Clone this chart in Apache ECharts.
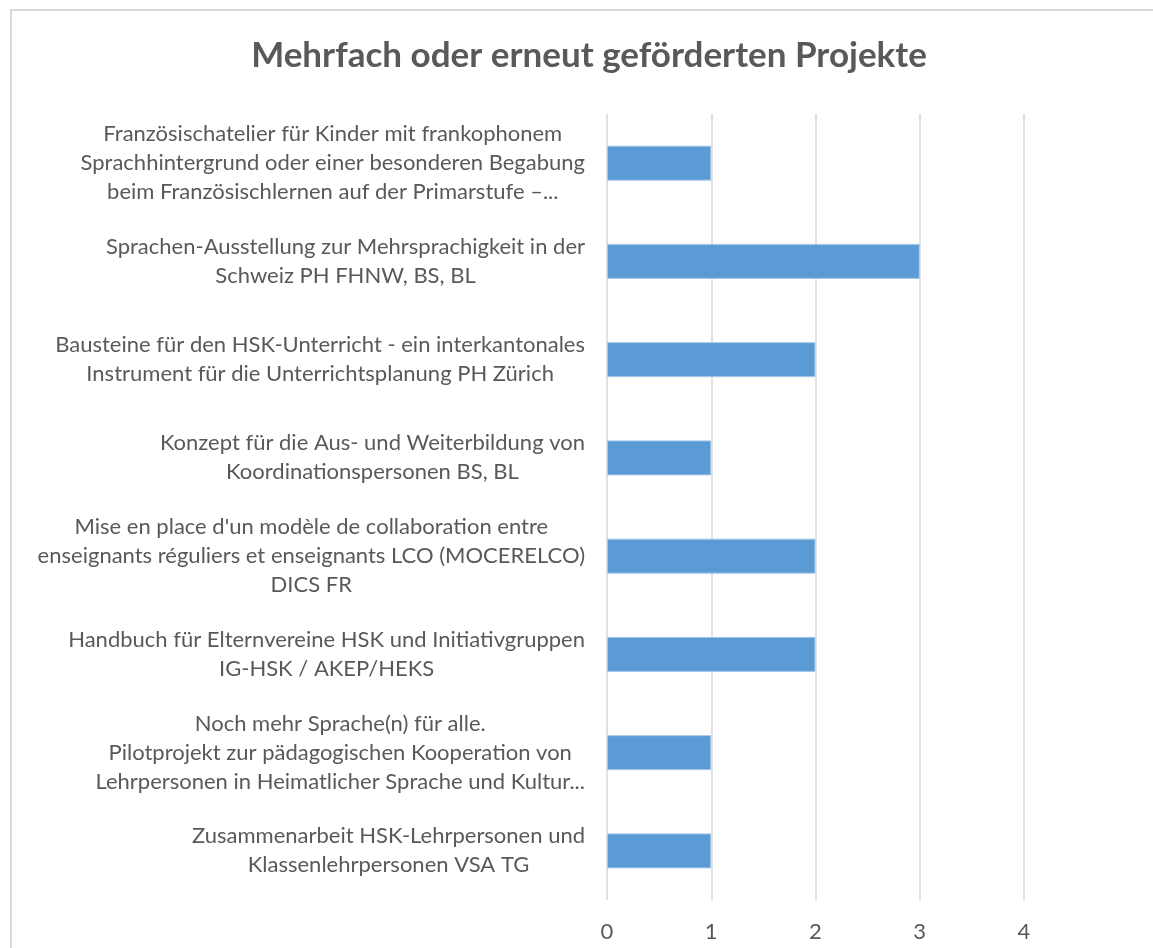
<!DOCTYPE html>
<html>
<head>
<meta charset="utf-8">
<script src="https://cdn.jsdelivr.net/npm/echarts@6/dist/echarts.min.js"></script>
<style>
  html, body { margin: 0; padding: 0; background: #fff; }
  #frame {
    position: absolute; left: 10px; top: 9px; width: 1160px; height: 960px;
    border-left: 2px solid #d9d9d9; border-top: 2px solid #d9d9d9;
  }
  #chart { position: absolute; left: 0; top: 0; width: 1153px; height: 948px; }
</style>
</head>
<body>
<div id="frame"></div>
<div id="chart"></div>
<script>
const chartTitle = 'Mehrfach oder erneut geförderten Projekte'

// top to bottom, as in the picture
const projects = [
  'Französischatelier für Kinder mit frankophonem\nSprachhintergrund oder einer besonderen Begabung\nbeim Französischlernen auf der Primarstufe –...',
  'Sprachen-Ausstellung zur Mehrsprachigkeit in der\nSchweiz PH FHNW, BS, BL',
  'Bausteine für den HSK-Unterricht - ein interkantonales\nInstrument für die Unterrichtsplanung PH Zürich',
  'Konzept für die Aus- und Weiterbildung von\nKoordinationspersonen BS, BL',
  "Mise en place d'un modèle de collaboration entre\nenseignants réguliers et enseignants LCO (MOCERELCO)\nDICS FR",
  'Handbuch für Elternvereine HSK und Initiativgruppen\nIG-HSK / AKEP/HEKS',
  'Noch mehr Sprache(n) für alle.\nPilotprojekt zur pädagogischen Kooperation von\nLehrpersonen in Heimatlicher Sprache und Kultur...',
  'Zusammenarbeit HSK-Lehrpersonen und\nKlassenlehrpersonen VSA TG'
]
const counts = [1, 3, 2, 1, 2, 2, 1, 1]
const xTicks = [0, 1, 2, 3, 4]

const textColor = '#595959'
const fontFamily = 'Lato, "Open Sans", sans-serif'
const labelSize = 22

const chart = echarts.init(document.getElementById('chart'), null, { renderer: 'canvas' })

const option = {
  backgroundColor: 'transparent',
  animation: false,
  title: {
    text: chartTitle,
    left: 584,
    top: 33,
    textAlign: 'center',
    textStyle: { color: textColor, fontSize: 35, fontWeight: 'bold', fontFamily: fontFamily }
  },
  grid: { left: 607, right: 129, top: 114, bottom: 48, containLabel: false },
  xAxis: {
    type: 'value',
    min: xTicks[0],
    max: xTicks[xTicks.length - 1],
    interval: 1,
    axisLine: { show: false },
    axisTick: { show: false },
    axisLabel: { color: textColor, fontSize: 22, fontFamily: fontFamily, margin: 21 },
    splitLine: { lineStyle: { color: '#d9d9d9', width: 1.5 } }
  },
  yAxis: {
    type: 'category',
    data: projects,
    inverse: true,
    axisLine: { show: false },
    axisTick: { show: false },
    axisLabel: {
      margin: 22,
      align: 'right',
      color: textColor,
      fontSize: labelSize,
      fontFamily: fontFamily,
      lineHeight: 29,
      formatter: (v) => v.split('\n').map(s => '{c|' + s + '}').join('\n'),
      rich: { c: { align: 'center', color: textColor, fontSize: labelSize, fontFamily: fontFamily, lineHeight: 29 } }
    }
  },
  series: [{
    type: 'bar',
    data: counts,
    barWidth: 35,
    itemStyle: { color: '#5b9bd5', borderColor: '#a9c9ea', borderWidth: 1 }
  }]
}

chart.setOption(option)
</script>
</body>
</html>
